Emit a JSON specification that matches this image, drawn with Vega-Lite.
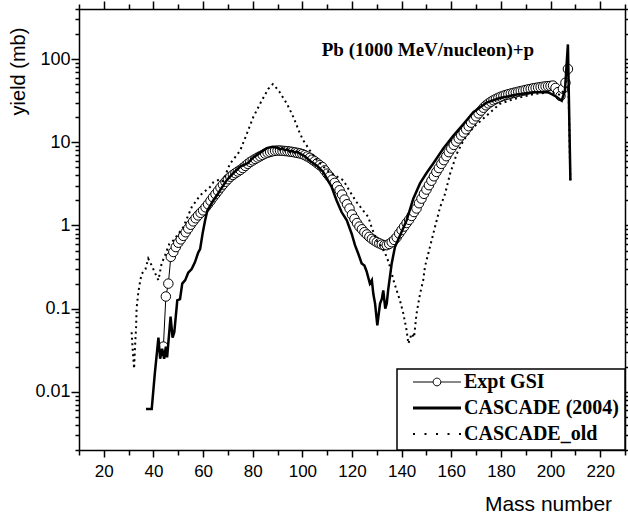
{
  "$schema": "https://vega.github.io/schema/vega-lite/v6.json",
  "width": 546,
  "height": 441,
  "autosize": {"type": "none"},
  "padding": {"left": 79, "top": 9, "right": 3, "bottom": 65},
  "background": "white",
  "config": {"view": {"stroke": null}},
  "datasets": {
    "expt": [
      {"A":44,"y":0.035},{"A":45,"y":0.14},{"A":46,"y":0.2},{"A":47,"y":0.42},{"A":48,"y":0.48},{"A":49,"y":0.55},{"A":50,"y":0.62},
      {"A":51,"y":0.68},{"A":52,"y":0.75},{"A":53,"y":0.83},{"A":54,"y":0.92},{"A":55,"y":1.02},{"A":56,"y":1.12},{"A":57,"y":1.22},
      {"A":58,"y":1.32},{"A":59,"y":1.42},{"A":60,"y":1.52},{"A":61,"y":1.65},{"A":62,"y":1.8},{"A":63,"y":1.98},{"A":64,"y":2.18},
      {"A":65,"y":2.38},{"A":66,"y":2.6},{"A":67,"y":2.85},{"A":68,"y":3.1},{"A":69,"y":3.35},{"A":70,"y":3.6},{"A":71,"y":3.85},
      {"A":72,"y":4.05},{"A":73,"y":4.25},{"A":74,"y":4.45},{"A":75,"y":4.65},{"A":76,"y":4.9},{"A":77,"y":5.2},{"A":78,"y":5.5},
      {"A":79,"y":5.8},{"A":80,"y":6.05},{"A":81,"y":6.3},{"A":82,"y":6.55},{"A":83,"y":6.8},{"A":84,"y":7.05},{"A":85,"y":7.3},
      {"A":86,"y":7.5},{"A":87,"y":7.65},{"A":88,"y":7.8},{"A":89,"y":7.9},{"A":90,"y":7.95},{"A":91,"y":7.95},{"A":92,"y":7.9},
      {"A":93,"y":7.85},{"A":94,"y":7.8},{"A":95,"y":7.72},{"A":96,"y":7.65},{"A":97,"y":7.55},{"A":98,"y":7.45},{"A":99,"y":7.35},
      {"A":100,"y":7.2},{"A":101,"y":7.0},{"A":102,"y":6.75},{"A":103,"y":6.5},{"A":104,"y":6.2},{"A":105,"y":5.9},{"A":106,"y":5.6},
      {"A":107,"y":5.3},{"A":108,"y":5.05},{"A":109,"y":4.6},{"A":110,"y":4.2},{"A":111,"y":3.85},{"A":112,"y":3.55},{"A":113,"y":3.25},
      {"A":114,"y":2.95},{"A":115,"y":2.65},{"A":116,"y":2.35},{"A":117,"y":2.05},{"A":118,"y":1.8},{"A":119,"y":1.6},{"A":120,"y":1.35},
      {"A":121,"y":1.2},{"A":122,"y":1.07},{"A":123,"y":0.97},{"A":124,"y":0.9},{"A":125,"y":0.83},{"A":126,"y":0.78},{"A":127,"y":0.73},
      {"A":128,"y":0.69},{"A":129,"y":0.66},{"A":130,"y":0.63},{"A":131,"y":0.61},{"A":132,"y":0.59},{"A":133,"y":0.58},{"A":134,"y":0.58},
      {"A":135,"y":0.6},{"A":136,"y":0.63},{"A":137,"y":0.67},{"A":138,"y":0.72},{"A":139,"y":0.8},{"A":140,"y":0.88},{"A":141,"y":0.97},
      {"A":142,"y":1.07},{"A":143,"y":1.17},{"A":144,"y":1.3},{"A":145,"y":1.45},{"A":146,"y":1.6},{"A":147,"y":1.85},{"A":148,"y":2.1},
      {"A":149,"y":2.4},{"A":150,"y":2.7},{"A":151,"y":3.05},{"A":152,"y":3.45},{"A":153,"y":3.9},{"A":154,"y":4.4},{"A":155,"y":4.9},
      {"A":156,"y":5.5},{"A":157,"y":6.1},{"A":158,"y":6.8},{"A":159,"y":7.6},{"A":160,"y":8.4},{"A":161,"y":9.3},{"A":162,"y":10.2},
      {"A":163,"y":11.1},{"A":164,"y":12.1},{"A":165,"y":13.1},{"A":166,"y":14.3},{"A":167,"y":15.6},{"A":168,"y":17.2},{"A":169,"y":18.8},
      {"A":170,"y":20.5},{"A":171,"y":22.2},{"A":172,"y":24},{"A":173,"y":26},{"A":174,"y":27.8},{"A":175,"y":29.3},{"A":176,"y":30.7},
      {"A":177,"y":32},{"A":178,"y":33.2},{"A":179,"y":34.3},{"A":180,"y":35.3},{"A":181,"y":36.2},{"A":182,"y":37},{"A":183,"y":37.8},
      {"A":184,"y":38.5},{"A":185,"y":39.2},{"A":186,"y":39.8},{"A":187,"y":40.5},{"A":188,"y":41.2},{"A":189,"y":41.8},{"A":190,"y":42.5},
      {"A":191,"y":43.2},{"A":192,"y":43.8},{"A":193,"y":44.5},{"A":194,"y":45},{"A":195,"y":45.5},{"A":196,"y":46},{"A":197,"y":46.5},
      {"A":198,"y":47},{"A":199,"y":47.3},{"A":200,"y":47.6},{"A":201,"y":48},{"A":202,"y":45},{"A":203,"y":40},{"A":204,"y":36},
      {"A":205,"y":44},{"A":206,"y":52},{"A":207,"y":76}
    ],
    "c2004": [
      {"A":37,"y":0.0062},{"A":39.3,"y":0.0062},{"A":40.5,"y":0.016},{"A":42,"y":0.045},{"A":42.7,"y":0.025},{"A":43.5,"y":0.033},
      {"A":44.3,"y":0.025},{"A":45,"y":0.035},{"A":45.5,"y":0.026},{"A":46.9,"y":0.08},{"A":47.7,"y":0.045},{"A":48.4,"y":0.052},
      {"A":49.6,"y":0.126},{"A":50.7,"y":0.13},{"A":51.6,"y":0.2},{"A":52.8,"y":0.22},{"A":54,"y":0.27},{"A":55.4,"y":0.3},
      {"A":56.7,"y":0.36},{"A":58,"y":0.47},{"A":58.8,"y":0.52},{"A":59.8,"y":0.8},{"A":60.8,"y":1.15},{"A":61.7,"y":1.5},
      {"A":63,"y":1.75},{"A":64.1,"y":2.0},{"A":66,"y":2.4},{"A":67,"y":2.7},{"A":69.5,"y":3.5},{"A":72,"y":4.2},{"A":75,"y":5.1},
      {"A":78,"y":5.6},{"A":80,"y":6.5},{"A":83,"y":7.5},{"A":85.6,"y":8.5},{"A":88,"y":8.8},{"A":90,"y":8.6},{"A":91,"y":8.2},
      {"A":92,"y":8.5},{"A":93,"y":8.0},{"A":94,"y":8.2},{"A":95,"y":7.7},{"A":96,"y":7.9},{"A":97,"y":7.5},{"A":98,"y":7.7},
      {"A":99,"y":7.3},{"A":101,"y":6.8},{"A":103,"y":6.0},{"A":106,"y":5.2},{"A":108.4,"y":4.4},{"A":110,"y":3.6},{"A":111.8,"y":2.9},
      {"A":113.8,"y":2.0},{"A":115.8,"y":1.45},{"A":117.9,"y":1.15},{"A":119.9,"y":0.79},{"A":121.2,"y":0.58},{"A":122.5,"y":0.46},
      {"A":123.9,"y":0.35},{"A":125,"y":0.33},{"A":125.9,"y":0.28},{"A":127.2,"y":0.2},{"A":128,"y":0.22},{"A":128.6,"y":0.15},
      {"A":129.3,"y":0.115},{"A":130.2,"y":0.063},{"A":131.3,"y":0.115},{"A":132,"y":0.13},{"A":132.6,"y":0.166},{"A":133.4,"y":0.1},
      {"A":134,"y":0.115},{"A":134.6,"y":0.17},{"A":136,"y":0.35},{"A":137.3,"y":0.55},{"A":139.3,"y":0.75},{"A":142,"y":1.15},
      {"A":144.7,"y":2.1},{"A":147.4,"y":3.2},{"A":150.1,"y":4.3},{"A":152.8,"y":5.6},{"A":156.8,"y":8.4},{"A":160.8,"y":12},
      {"A":164.9,"y":16.6},{"A":168.9,"y":23},{"A":174.3,"y":30},{"A":179.6,"y":34},{"A":186.4,"y":37.5},{"A":193.1,"y":40},
      {"A":199,"y":40},{"A":202.5,"y":35},{"A":204.5,"y":31.6},{"A":205.8,"y":42},{"A":207,"y":150},{"A":208,"y":3.5}
    ],
    "cold": [
      {"A":31.2,"y":0.052},{"A":31.7,"y":0.03},{"A":32.2,"y":0.019},{"A":32.6,"y":0.036},{"A":33,"y":0.06},{"A":33.2,"y":0.1},
      {"A":33.9,"y":0.158},{"A":34.6,"y":0.21},{"A":35.2,"y":0.26},{"A":36.8,"y":0.3},{"A":37.9,"y":0.4},{"A":39.3,"y":0.33},
      {"A":40.6,"y":0.27},{"A":42,"y":0.22},{"A":43.3,"y":0.35},{"A":44.7,"y":0.44},{"A":46.4,"y":0.6},{"A":48,"y":0.66},
      {"A":52,"y":0.95},{"A":55.4,"y":1.66},{"A":58.8,"y":2.3},{"A":62.8,"y":2.9},{"A":64.1,"y":3.3},{"A":66.8,"y":3.6},
      {"A":68,"y":3.4},{"A":70.8,"y":5.5},{"A":74.9,"y":7.9},{"A":77.6,"y":12.6},{"A":80.2,"y":20},{"A":83.6,"y":31.6},
      {"A":86.3,"y":44},{"A":88.1,"y":50},{"A":90.4,"y":42},{"A":93.8,"y":29},{"A":96.4,"y":20},{"A":99.1,"y":12.6},
      {"A":100.4,"y":10.5},{"A":103,"y":8},{"A":106,"y":6},{"A":110,"y":4.6},{"A":113,"y":4},{"A":116.5,"y":3.5},{"A":119,"y":2.6},
      {"A":121.9,"y":1.9},{"A":124.6,"y":1.5},{"A":126.6,"y":1.26},{"A":127.9,"y":0.95},{"A":129.9,"y":0.66},{"A":132,"y":0.55},
      {"A":134,"y":0.42},{"A":135.3,"y":0.32},{"A":136.7,"y":0.22},{"A":138,"y":0.166},{"A":139.3,"y":0.126},{"A":140.7,"y":0.087},
      {"A":142,"y":0.055},{"A":142.7,"y":0.038},{"A":144,"y":0.05},{"A":145,"y":0.045},{"A":146,"y":0.087},{"A":147.4,"y":0.15},
      {"A":148.7,"y":0.22},{"A":149.4,"y":0.32},{"A":151.4,"y":0.55},{"A":153.4,"y":0.95},{"A":155.5,"y":1.66},{"A":157.5,"y":2.4},
      {"A":159.5,"y":4.17},{"A":162.2,"y":7.25},{"A":164.9,"y":10.5},{"A":168.9,"y":15.1},{"A":174.3,"y":21},{"A":179.6,"y":29},
      {"A":185,"y":33},{"A":193.1,"y":38},{"A":200,"y":40},{"A":204,"y":37},{"A":206,"y":45},{"A":207,"y":100},{"A":208,"y":3.2}
    ]
  },
  "resolve": {"axis": {"x": "independent", "y": "independent"}},
  "layer": [
    {
      "data": {"name": "expt"},
      "mark": {"type": "line", "strokeWidth": 1, "color": "black"},
      "encoding": {
        "x": {
          "field": "A", "type": "quantitative",
          "scale": {"domain": [10, 230], "nice": false, "zero": false},
          "axis": {
            "orient": "bottom",
            "values": [10,20,30,40,50,60,70,80,90,100,110,120,130,140,150,160,170,180,190,200,210,220,230],
            "labelExpr": "(datum.value % 20 == 0 && datum.value >= 20 && datum.value <= 220) ? datum.label : ''",
            "tickSize": {"condition": {"test": "datum.value % 20 == 0", "value": 7}, "value": 5},
            "grid": false, "domainColor": "black", "domainWidth": 1.5,
            "tickColor": "black", "tickWidth": 1.5,
            "labelFont": "Liberation Sans", "labelFontSize": 17, "labelColor": "black",
            "labelPadding": 6, "labelFlush": false, "labelOverlap": false, "labelBound": false,
            "title": "Mass number", "titleFont": "Liberation Sans", "titleFontSize": 21,
            "titleFontWeight": "normal", "titleColor": "black",
            "titleX": 469, "titleY": 60, "titleAlign": "center", "titleBaseline": "alphabetic", "titleAnchor": null
          }
        },
        "y": {
          "field": "y", "type": "quantitative",
          "scale": {"type": "log", "domain": [0.002, 400], "nice": false},
          "axis": {
            "orient": "left",
            "values": [0.002,0.003,0.004,0.005,0.006,0.007,0.008,0.009,0.01,0.02,0.03,0.04,0.05,0.06,0.07,0.08,0.09,0.1,0.2,0.3,0.4,0.5,0.6,0.7,0.8,0.9,1,2,3,4,5,6,7,8,9,10,20,30,40,50,60,70,80,90,100,200,300,400],
            "labelExpr": "datum.value == 100 ? '100' : datum.value == 10 ? '10' : datum.value == 1 ? '1' : datum.value == 0.1 ? '0.1' : datum.value == 0.01 ? '0.01' : ''",
            "tickSize": {"condition": {"test": "datum.value == 0.01 || datum.value == 0.1 || datum.value == 1 || datum.value == 10 || datum.value == 100", "value": 8}, "value": 4},
            "grid": false, "domainColor": "black", "domainWidth": 1.5,
            "tickColor": "black", "tickWidth": 1.5,
            "labelFont": "Liberation Sans", "labelFontSize": 18, "labelColor": "black",
            "labelPadding": 1, "labelOverlap": false, "labelBound": false, "labelFlush": false,
            "title": "yield (mb)", "titleFont": "Liberation Sans", "titleFontSize": 20,
            "titleFontWeight": "normal", "titleColor": "black", "titleAngle": -90,
            "titleX": -60.5, "titleY": 62, "titleAlign": "center", "titleBaseline": "middle", "titleAnchor": null
          }
        },
        "color": {
          "datum": "Expt GSI",
          "scale": {"domain": ["Expt GSI", "CASCADE (2004)", "CASCADE_old"], "range": ["black", "black", "black"]},
          "legend": {
            "title": null,
            "orient": "bottom-right",
            "offset": 0,
            "padding": 6,
            "fillColor": "white",
            "strokeColor": "black",
            "clipHeight": 14,
            "rowPadding": 6,
            "symbolSize": 2304,
            "symbolOffset": 24,
            "labelOffset": 17,
            "labelFont": "Liberation Serif",
            "labelFontWeight": "bold",
            "labelFontSize": 20,
            "labelColor": "black",
            "labelLimit": 400,
            "labelExpr": "datum.value == 'CASCADE (2004)' ? '\u00a0' + datum.label : datum.label",
            "encode": {
              "legend": {"update": {"strokeWidth": {"value": 1.5}}},
              "symbols": {
                "update": {
                  "shape": {"signal": "datum.value == 'Expt GSI' ? 'M-1,0H-0.16M0.16,0H1M0.16,0A0.16,0.16,0,1,1,-0.16,0A0.16,0.16,0,1,1,0.16,0' : 'M-1,0H1'"},
                  "strokeWidth": {"signal": "datum.value == 'CASCADE (2004)' ? 3 : datum.value == 'CASCADE_old' ? 2 : 1"},
                  "strokeDash": {"signal": "datum.value == 'CASCADE_old' ? [2, 9.5] : [1, 0]"},
                  "stroke": {"value": "black"},
                  "fill": {"value": "white"},
                  "opacity": {"value": 1}
                }
              }
            }
          }
        }
      }
    },
    {
      "data": {"name": "expt"},
      "mark": {"type": "point", "shape": "circle", "filled": true, "fill": "white", "stroke": "black", "strokeWidth": 1, "size": 90, "opacity": 1},
      "encoding": {
        "x": {"field": "A", "type": "quantitative", "axis": null},
        "y": {"field": "y", "type": "quantitative", "axis": null}
      }
    },
    {
      "data": {"name": "c2004"},
      "mark": {"type": "line", "strokeWidth": 2.5, "color": "black", "strokeJoin": "miter"},
      "encoding": {
        "x": {"field": "A", "type": "quantitative", "axis": null},
        "y": {"field": "y", "type": "quantitative", "axis": null},
        "color": {"datum": "CASCADE (2004)"}
      }
    },
    {
      "data": {"name": "cold"},
      "mark": {"type": "line", "strokeWidth": 2, "strokeDash": [2, 3.5], "color": "black"},
      "encoding": {
        "x": {"field": "A", "type": "quantitative", "axis": null},
        "y": {"field": "y", "type": "quantitative", "axis": null},
        "color": {"datum": "CASCADE_old"}
      }
    },
    {
      "data": {"values": [{}]},
      "mark": {"type": "text", "text": "Pb (1000 MeV/nucleon)+p", "font": "Liberation Serif", "fontWeight": "bold", "fontSize": 19, "align": "left", "baseline": "alphabetic", "color": "black"},
      "encoding": {
        "x": {"datum": 107.8, "type": "quantitative", "axis": null},
        "y": {"datum": 109.5, "type": "quantitative", "axis": null}
      }
    },
    {
      "data": {"name": "expt"},
      "mark": {"type": "point", "opacity": 0},
      "encoding": {
        "x": {
          "field": "A", "type": "quantitative",
          "axis": {
            "orient": "top", "labels": false, "title": null, "grid": false,
            "values": [10,20,30,40,50,60,70,80,90,100,110,120,130,140,150,160,170,180,190,200,210,220,230],
            "tickSize": {"condition": {"test": "datum.value % 20 == 0", "value": 8}, "value": 5},
            "domainColor": "black", "domainWidth": 1.5, "tickColor": "black", "tickWidth": 1.5
          }
        },
        "y": {
          "field": "y", "type": "quantitative",
          "axis": {
            "orient": "right", "labels": false, "title": null, "grid": false,
            "values": [0.002,0.003,0.004,0.005,0.006,0.007,0.008,0.009,0.01,0.02,0.03,0.04,0.05,0.06,0.07,0.08,0.09,0.1,0.2,0.3,0.4,0.5,0.6,0.7,0.8,0.9,1,2,3,4,5,6,7,8,9,10,20,30,40,50,60,70,80,90,100,200,300,400],
            "tickSize": {"condition": {"test": "datum.value == 0.01 || datum.value == 0.1 || datum.value == 1 || datum.value == 10 || datum.value == 100", "value": 8}, "value": 4},
            "domainColor": "black", "domainWidth": 1.5, "tickColor": "black", "tickWidth": 1.5
          }
        }
      }
    }
  ]
}
